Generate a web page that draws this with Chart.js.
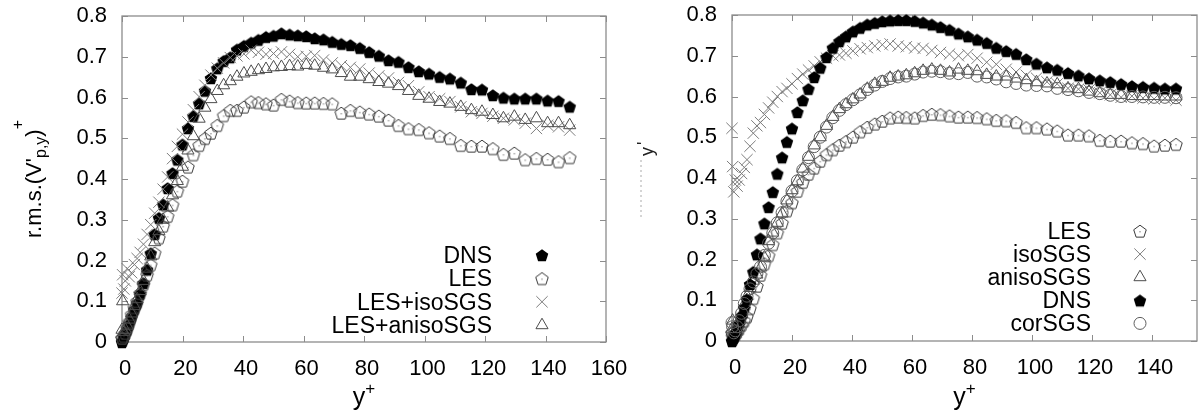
<!DOCTYPE html>
<html>
<head>
<meta charset="utf-8">
<script src="https://cdn.jsdelivr.net/npm/chart.js@4.4.1/dist/chart.umd.min.js"></script>
<style>
  body { margin: 0; background: #fff; width: 1202px; height: 418px; overflow: hidden; position: relative; }
  #left { position: absolute; left: 0; top: 0; }
  #right { position: absolute; left: 620px; top: 0; }
</style>
</head>
<body>
<canvas id="left" width="650" height="418"></canvas>
<canvas id="right" width="586" height="418"></canvas>
<script>
// wall distance y+ (shared by all series)
const yPlus = [
  0, 0.2, 0.6, 1.1, 1.7, 2.4, 3.2, 4.1,
  5.0, 6.0, 7.1, 8.3, 9.5, 10.8, 12.2, 13.6,
  15.1, 16.7, 18.3, 20.0, 21.8, 23.6, 25.5, 27.4,
  29.4, 31.5, 33.6, 35.8, 38.0, 40.3, 42.7, 45.1,
  47.6, 50.1, 52.7, 55.4, 58.1, 60.9, 63.7, 66.6,
  69.5, 72.5, 75.5, 78.6, 81.7, 84.9, 88.1, 91.4,
  94.7, 98.1, 101.5, 105.0, 108.4, 112.0, 115.5, 119.0,
  122.6, 126.1, 129.7, 133.3, 137.0, 140.7, 144.3, 148.0
];

// left panel
const leftDNS = [
  0.000, 0.003, 0.010, 0.020, 0.030, 0.045, 0.062, 0.080,
  0.095, 0.118, 0.145, 0.178, 0.218, 0.265, 0.305, 0.338,
  0.378, 0.415, 0.448, 0.485, 0.525, 0.555, 0.586, 0.617,
  0.648, 0.672, 0.690, 0.699, 0.718, 0.727, 0.735, 0.742,
  0.749, 0.752, 0.758, 0.755, 0.753, 0.751, 0.746, 0.743,
  0.737, 0.732, 0.729, 0.722, 0.712, 0.703, 0.692, 0.688,
  0.675, 0.665, 0.659, 0.651, 0.647, 0.637, 0.621, 0.620,
  0.606, 0.600, 0.598, 0.598, 0.598, 0.593, 0.592, 0.578
];
const leftLES = [
  0.010, 0.010, 0.015, 0.022, 0.035, 0.050, 0.068, 0.085,
  0.100, 0.120, 0.142, 0.165, 0.190, 0.219, 0.256, 0.285,
  0.309, 0.337, 0.371, 0.395, 0.430, 0.460, 0.483, 0.500,
  0.513, 0.532, 0.556, 0.569, 0.569, 0.577, 0.590, 0.588,
  0.585, 0.582, 0.596, 0.592, 0.588, 0.587, 0.587, 0.586,
  0.585, 0.562, 0.569, 0.565, 0.560, 0.555, 0.545, 0.532,
  0.524, 0.522, 0.514, 0.506, 0.500, 0.483, 0.481, 0.481,
  0.475, 0.461, 0.464, 0.448, 0.451, 0.449, 0.443, 0.453
];
const leftIso = [
  0.120, 0.165, 0.130, 0.150, 0.180, 0.160, 0.170, 0.190,
  0.205, 0.220, 0.240, 0.264, 0.288, 0.316, 0.343, 0.375,
  0.405, 0.450, 0.480, 0.510, 0.540, 0.570, 0.602, 0.630,
  0.655, 0.672, 0.685, 0.698, 0.702, 0.707, 0.716, 0.711,
  0.706, 0.708, 0.712, 0.706, 0.700, 0.701, 0.703, 0.692,
  0.685, 0.678, 0.674, 0.670, 0.660, 0.653, 0.648, 0.637,
  0.629, 0.614, 0.602, 0.597, 0.590, 0.577, 0.565, 0.561,
  0.554, 0.549, 0.545, 0.537, 0.524, 0.532, 0.528, 0.520
];
const leftAniso = [
  0.030, 0.100, 0.025, 0.030, 0.040, 0.055, 0.070, 0.088,
  0.105, 0.125, 0.150, 0.180, 0.210, 0.245, 0.272, 0.300,
  0.330, 0.360, 0.395, 0.430, 0.470, 0.505, 0.548, 0.575,
  0.596, 0.616, 0.630, 0.640, 0.651, 0.659, 0.663, 0.667,
  0.670, 0.674, 0.675, 0.677, 0.676, 0.680, 0.678, 0.673,
  0.669, 0.660, 0.651, 0.651, 0.645, 0.638, 0.634, 0.628,
  0.616, 0.604, 0.597, 0.589, 0.585, 0.577, 0.569, 0.565,
  0.557, 0.549, 0.553, 0.545, 0.549, 0.537, 0.537, 0.532
];

// right panel
const rightDNS = [
  0.000, 0.002, 0.008, 0.018, 0.030, 0.043, 0.062, 0.082,
  0.103, 0.140, 0.170, 0.213, 0.252, 0.289, 0.329, 0.366,
  0.411, 0.451, 0.489, 0.522, 0.562, 0.591, 0.619, 0.648,
  0.671, 0.697, 0.720, 0.736, 0.748, 0.760, 0.769, 0.777,
  0.781, 0.785, 0.787, 0.788, 0.788, 0.786, 0.782, 0.777,
  0.771, 0.764, 0.755, 0.748, 0.740, 0.732, 0.720, 0.712,
  0.705, 0.692, 0.681, 0.672, 0.666, 0.658, 0.652, 0.645,
  0.640, 0.636, 0.631, 0.626, 0.624, 0.622, 0.620, 0.620
];
const rightLES = [
  0.020, 0.012, 0.010, 0.015, 0.022, 0.030, 0.040, 0.050,
  0.060, 0.080, 0.105, 0.135, 0.162, 0.190, 0.210, 0.237,
  0.266, 0.290, 0.320, 0.340, 0.368, 0.390, 0.410, 0.425,
  0.442, 0.458, 0.470, 0.481, 0.490, 0.501, 0.514, 0.525,
  0.533, 0.540, 0.548, 0.550, 0.549, 0.548, 0.554, 0.557,
  0.556, 0.553, 0.550, 0.550, 0.549, 0.546, 0.542, 0.541,
  0.537, 0.524, 0.524, 0.521, 0.516, 0.506, 0.506, 0.504,
  0.493, 0.491, 0.491, 0.487, 0.485, 0.479, 0.481, 0.483
];
const rightIso = [
  0.522, 0.428, 0.366, 0.395, 0.380, 0.395, 0.411, 0.426,
  0.445, 0.478, 0.510, 0.528, 0.536, 0.556, 0.572, 0.586,
  0.600, 0.612, 0.620, 0.631, 0.644, 0.655, 0.665, 0.675,
  0.685, 0.694, 0.700, 0.702, 0.706, 0.712, 0.717, 0.720,
  0.724, 0.727, 0.729, 0.724, 0.722, 0.719, 0.718, 0.713,
  0.708, 0.704, 0.700, 0.703, 0.694, 0.684, 0.679, 0.667,
  0.660, 0.652, 0.645, 0.636, 0.631, 0.620, 0.618, 0.616,
  0.609, 0.604, 0.598, 0.601, 0.596, 0.594, 0.596, 0.591
];
const rightAniso = [
  0.030, 0.050, 0.020, 0.025, 0.035, 0.050, 0.065, 0.090,
  0.110, 0.130, 0.148, 0.163, 0.180, 0.205, 0.245, 0.266,
  0.290, 0.313, 0.345, 0.370, 0.392, 0.423, 0.452, 0.480,
  0.500, 0.528, 0.550, 0.569, 0.581, 0.593, 0.605, 0.619,
  0.631, 0.636, 0.646, 0.649, 0.652, 0.657, 0.663, 0.666,
  0.663, 0.659, 0.666, 0.663, 0.662, 0.653, 0.649, 0.649,
  0.644, 0.640, 0.635, 0.632, 0.630, 0.620, 0.618, 0.612,
  0.608, 0.604, 0.604, 0.601, 0.601, 0.601, 0.600, 0.600
];
const rightCor = [
  0.045, 0.035, 0.020, 0.025, 0.035, 0.050, 0.068, 0.092,
  0.110, 0.128, 0.145, 0.165, 0.182, 0.210, 0.240, 0.265,
  0.290, 0.315, 0.343, 0.368, 0.393, 0.420, 0.450, 0.477,
  0.500, 0.525, 0.548, 0.566, 0.580, 0.592, 0.604, 0.617,
  0.628, 0.637, 0.644, 0.648, 0.650, 0.655, 0.660, 0.662,
  0.661, 0.657, 0.656, 0.659, 0.650, 0.648, 0.643, 0.636,
  0.632, 0.628, 0.627, 0.626, 0.620, 0.617, 0.614, 0.610,
  0.607, 0.603, 0.600, 0.600, 0.599, 0.598, 0.598, 0.597
];

const leftXMax = 160, rightXMax = 155, yMax = 0.8;

const FONT = '"Liberation Sans", Arial, sans-serif';

// pentagon markers (gnuplot style), drawn once into small canvases
function pentagon(fill, stroke) {
  const c = document.createElement('canvas');
  c.width = c.height = 18;
  const g = c.getContext('2d');
  const r = 6.6;
  g.beginPath();
  for (let i = 0; i < 5; i++) {
    const a = -Math.PI / 2 + i * 2 * Math.PI / 5;
    const px = 9 + r * Math.cos(a), py = 9.8 + r * Math.sin(a);
    if (i === 0) g.moveTo(px, py); else g.lineTo(px, py);
  }
  g.closePath();
  if (fill) { g.fillStyle = fill; g.fill(); }
  if (stroke) {
    g.strokeStyle = stroke; g.lineWidth = 1; g.stroke();
    g.fillStyle = stroke; g.fillRect(8.5, 9.3, 1, 1);
  }
  return c;
}
const pentFilled = pentagon('#000', null);
const pentOpen = pentagon(null, '#3a3a3a');

function pts(ys) {
  return yPlus.map((x, i) => ({ x: x, y: ys[i] }));
}

function dnsSet(label, ys) {
  return { label, data: pts(ys), pointStyle: pentFilled, pointRadius: 6 };
}
function lesSet(label, ys) {
  return { label, data: pts(ys), pointStyle: pentOpen, pointRadius: 6 };
}
function isoSet(label, ys) {
  return { label, data: pts(ys), pointStyle: 'crossRot', pointRadius: 8,
           pointBorderColor: '#7c7c7c', pointBorderWidth: 1 };
}
function anisoSet(label, ys) {
  return { label, data: pts(ys), pointStyle: 'triangle', pointRadius: 7,
           pointBorderColor: '#4c4c4c', pointBackgroundColor: 'rgba(0,0,0,0)', pointBorderWidth: 1 };
}
function corSet(label, ys) {
  return { label, data: pts(ys), pointStyle: 'circle', pointRadius: 6,
           pointBorderColor: '#5e5e5e', pointBackgroundColor: 'rgba(0,0,0,0)', pointBorderWidth: 1 };
}

// border with inward ticks on all four sides
const framePlugin = {
  id: 'frame',
  beforeDatasetsDraw(chart) {
    const { ctx, chartArea: a, scales } = chart;
    ctx.save();
    ctx.strokeStyle = '#8c8c8c';
    ctx.lineWidth = 1.3;
    ctx.strokeRect(a.left, a.top, a.right - a.left, a.bottom - a.top);
    ctx.lineWidth = 1;
    ctx.beginPath();
    scales.x.ticks.forEach(t => {
      const px = Math.round(scales.x.getPixelForValue(t.value)) + 0.5;
      ctx.moveTo(px, a.bottom); ctx.lineTo(px, a.bottom - 6);
      ctx.moveTo(px, a.top); ctx.lineTo(px, a.top + 6);
    });
    scales.y.ticks.forEach(t => {
      const py = Math.round(scales.y.getPixelForValue(t.value)) + 0.5;
      ctx.moveTo(a.left, py); ctx.lineTo(a.left + 6, py);
      ctx.moveTo(a.right, py); ctx.lineTo(a.right - 6, py);
    });
    ctx.stroke();
    ctx.restore();
  }
};

// text made of pieces with their own size and baseline shift
function richText(ctx, parts, x, y, rot) {
  ctx.save();
  ctx.translate(x, y);
  if (rot) ctx.rotate(rot);
  ctx.fillStyle = '#000';
  ctx.textBaseline = 'alphabetic';
  ctx.textAlign = 'left';
  let total = 0;
  parts.forEach(p => { ctx.font = p.s + 'px ' + FONT; total += ctx.measureText(p.t).width; });
  let cx = -total / 2;
  parts.forEach(p => {
    ctx.font = p.s + 'px ' + FONT;
    ctx.fillText(p.t, cx, p.dy);
    cx += ctx.measureText(p.t).width;
  });
  ctx.restore();
}

const decorPlugin = {
  id: 'decor',
  afterDraw(chart, args, opts) {
    const { ctx, chartArea: a } = chart;
    const midX = (a.left + a.right) / 2;
    richText(ctx, [{ t: 'y', s: 25, dy: 0 }, { t: '+', s: 17, dy: -11 }], midX, 405, 0);
    if (opts.yTitle) {
      richText(ctx, [
        { t: "r.m.s.(V'", s: 22, dy: 0 },
        { t: 'p,y', s: 16, dy: 5 },
        { t: ')', s: 22, dy: 0 },
        { t: '+', s: 16, dy: -18 }
      ], 41, (a.top + a.bottom) / 2, -Math.PI / 2);
    }
    if (opts.fragmentX) {
      // remains of the cropped title of the second panel
      ctx.save();
      ctx.translate(opts.fragmentX, 156);
      ctx.rotate(-Math.PI / 2);
      ctx.font = '18px ' + FONT;
      ctx.fillStyle = '#222';
      ctx.fillText('y', 0, 0);
      ctx.fillText("'", 11, -3);
      ctx.restore();
      ctx.save();
      ctx.strokeStyle = '#aaa';
      ctx.setLineDash([2, 3]);
      ctx.beginPath();
      ctx.moveTo(opts.fragmentX - 12, 160);
      ctx.lineTo(opts.fragmentX - 12, 218);
      ctx.stroke();
      ctx.restore();
    }
    // legend: right-aligned labels with the marker to their right
    const lg = opts.legend;
    ctx.save();
    ctx.font = '23px ' + FONT;
    ctx.textAlign = 'right';
    ctx.textBaseline = 'alphabetic';
    ctx.fillStyle = '#000';
    lg.items.forEach((idx, row) => {
      const ds = chart.data.datasets[idx];
      const yy = lg.y0 + row * lg.dy;
      ctx.fillText(ds.label, lg.textRight, yy + 8);
      ctx.save();
      ctx.strokeStyle = ds.pointBorderColor || '#000';
      ctx.fillStyle = ds.pointBackgroundColor || 'rgba(0,0,0,0)';
      ctx.lineWidth = ds.pointBorderWidth || 1;
      Chart.helpers.drawPoint(ctx, {
        pointStyle: ds.pointStyle, radius: ds.pointRadius,
        borderWidth: ds.pointBorderWidth || 1, rotation: 0
      }, lg.markerX, yy);
      ctx.restore();
    });
    ctx.restore();
  }
};

function makeChart(id, datasets, xMax, box, decor) {
  datasets.forEach((d, i) => { d.showLine = false; d.clip = false; d.order = datasets.length - i; });
  return new Chart(document.getElementById(id), {
    type: 'scatter',
    data: { datasets },
    plugins: [framePlugin, decorPlugin],
    options: {
      responsive: false,
      animation: false,
      events: [],
      layout: { padding: { left: 0, right: box.padRight, top: box.top, bottom: 0 } },
      plugins: { legend: { display: false }, tooltip: { enabled: false }, decor },
      scales: {
        x: {
          type: 'linear', min: 0, max: xMax,
          grid: { display: false, drawTicks: false },
          border: { display: false },
          afterFit: s => { s.height = 418 - box.bottom; s.paddingLeft = 0; s.paddingRight = 0; },
          ticks: { stepSize: 20, includeBounds: false, padding: 14, labelOffset: 3,
                   color: '#000', font: { family: FONT, size: 22 } }
        },
        y: {
          type: 'linear', min: 0, max: yMax,
          grid: { display: false, drawTicks: false },
          border: { display: false },
          afterFit: s => { s.width = box.left; s.paddingTop = 0; s.paddingBottom = 0; },
          ticks: { stepSize: 0.1, padding: 15, color: '#000', font: { family: FONT, size: 22 } }
        }
      }
    }
  });
}

makeChart('left', [
  dnsSet('DNS', leftDNS),
  lesSet('LES', leftLES),
  isoSet('LES+isoSGS', leftIso),
  anisoSet('LES+anisoSGS', leftAniso)
], leftXMax, { left: 122, padRight: 44, top: 16, bottom: 342 }, {
  yTitle: true,
  legend: { items: [0, 1, 2, 3], textRight: 492, markerX: 542, y0: 255, dy: 23.4 }
});

makeChart('right', [
  lesSet('LES', rightLES),
  isoSet('isoSGS', rightIso),
  anisoSet('anisoSGS', rightAniso),
  dnsSet('DNS', rightDNS),
  corSet('corSGS', rightCor)
], rightXMax, { left: 112, padRight: 1, top: 15, bottom: 341 }, {
  fragmentX: 33,
  legend: { items: [0, 1, 2, 3, 4], textRight: 471, markerX: 520, y0: 231, dy: 23.1 }
});
</script>
</body>
</html>
